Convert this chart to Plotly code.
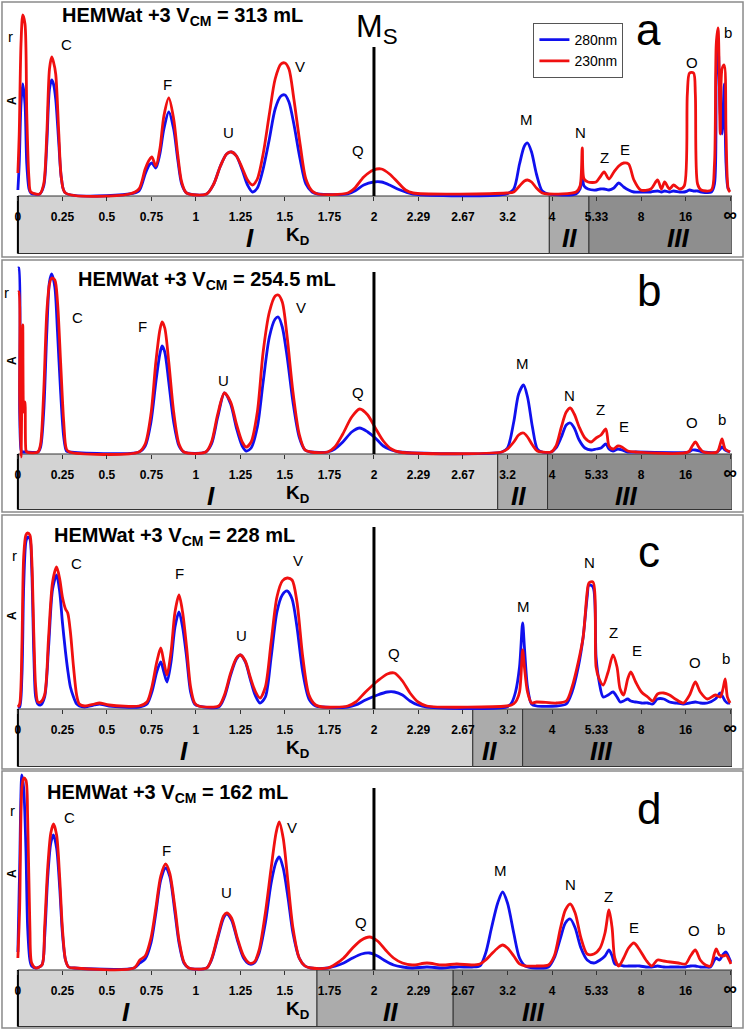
import plotly.graph_objects as go

W, H = 750, 1030
FONT = "Liberation Sans, Arial, sans-serif"
BLUE = "#1010ee"
RED = "#f01010"

# ---------------- data ----------------
tick_pos = list(range(17))
tick_labels = ["0", "0.25", "0.5", "0.75", "1", "1.25", "1.5", "1.75", "2",
               "2.29", "2.67", "3.2", "4", "5.33", "8", "16", "∞"]

titles = ["313", "254.5", "228", "162"]
panel_letters = ["a", "b", "c", "d"]
peak_names = ["r", "C", "F", "U", "V", "Q", "M", "N", "Z", "E", "O", "b"]

# panel a (V_CM = 313 mL)
a_pos = [0.00, 0.03, 0.07, 0.11, 0.16, 0.20, 0.25, 0.29, 0.49, 0.58, 0.65, 0.71, 0.76, 0.80, 0.85, 0.92, 0.98, 1.07,
         2.50, 2.72, 2.86, 2.95, 3.01, 3.10, 3.19, 3.28, 3.39, 3.50, 3.59, 3.68, 3.79, 4.24, 4.40, 4.55, 4.69, 4.80,
         4.91, 5.04, 5.16, 5.27, 5.38, 5.51, 5.65, 5.78, 5.91, 6.00, 6.09, 6.20, 6.34, 6.47, 6.61, 6.74, 7.41, 7.57,
         7.77, 7.99, 8.17, 8.35, 8.53, 8.71, 8.88, 10.98, 11.14, 11.27, 11.38, 11.45, 11.54, 11.65, 11.78, 11.92,
         12.54, 12.63, 12.68, 12.72, 12.81, 12.99, 13.08, 13.17, 13.28, 13.39, 13.50, 13.61, 13.72, 13.84, 13.99,
         14.22, 14.37, 14.46, 14.53, 14.64, 14.73, 14.87, 14.97, 15.04, 15.09, 15.18, 15.22, 15.27, 15.35, 15.58,
         15.65, 15.69, 15.73, 15.78, 15.82, 15.87, 15.91, 15.96, 16.00]
a_280 = [4, 30, 90, 110, 90, 30, 5, 1, 0, 8, 50, 105, 114, 110, 95, 50, 15, 1,
         0, 3, 20, 29, 31, 26, 40, 65, 82, 65, 35, 10, 1, 0, 10, 28, 40, 42,
         38, 24, 9, 2, 6, 25, 55, 85, 98, 99, 92, 70, 35, 10, 2, 0, 0, 3,
         9, 12, 12, 9, 5, 2, 0, 0, 5, 30, 48, 51, 42, 20, 3, 0,
         0, 5, 17, 8, 5, 4, 5, 5, 4, 6, 11, 7, 4, 2, 2,
         2, 3, 2, 3, 2, 3, 2, 2, 3, 4, 3, 3, 3, 2, 2,
         10, 120, 150, 80, 60, 110, 30, 5, 5]
a_230 = [21, 60, 150, 179, 170, 80, 15, 2, 0, 10, 60, 125, 137, 132, 120, 60, 15, 1,
         0, 5, 25, 34, 37, 28, 45, 78, 96, 75, 40, 12, 1, 0, 10, 28, 40, 42,
         38, 26, 14, 9, 15, 40, 80, 115, 130, 131, 125, 95, 50, 15, 3, 0, 1, 6,
         17, 24, 25, 20, 12, 4, 1, 1, 2, 8, 13, 14, 12, 6, 1, 0,
         2, 8, 46, 15, 12, 12, 17, 22, 15, 22, 28, 31, 30, 14, 4,
         5, 14, 5, 12, 5, 9, 5, 8, 100, 121, 121, 100, 10, 4, 4,
         30, 150, 166, 60, 125, 129, 60, 5, 2]

# panel b (V_CM = 254.5 mL)
b_pos = [0.00, 0.02, 0.04, 0.07, 0.09, 0.11, 0.13, 0.16, 0.18, 0.20, 0.45, 0.51, 0.58, 0.65, 0.71, 0.76, 0.83, 0.89,
         0.96, 1.03, 1.09, 1.16, 2.72, 2.86, 2.99, 3.10, 3.19, 3.24, 3.30, 3.39, 3.50, 3.62, 3.73, 4.22, 4.35, 4.49,
         4.64, 4.78, 4.91, 5.04, 5.13, 5.24, 5.38, 5.51, 5.65, 5.78, 5.85, 5.94, 6.05, 6.18, 6.32, 6.45, 6.58, 6.96,
         7.12, 7.30, 7.50, 7.68, 7.86, 8.03, 8.21, 8.39, 8.57, 10.87, 11.00, 11.14, 11.25, 11.36, 11.45, 11.56, 11.67,
         11.78, 11.98, 12.09, 12.21, 12.32, 12.41, 12.50, 12.61, 12.74, 12.88, 12.99, 13.10, 13.21, 13.28, 13.37,
         13.48, 13.57, 13.70, 13.88, 15.06, 15.15, 15.22, 15.31, 15.40, 15.71, 15.78, 15.82, 15.89, 16.00]
b_280 = [184, 184, 40, 2, 0, 0, 0, 0, 0, 0, 0, 5, 40, 120, 170, 178, 165, 120,
         60, 15, 1, 0, 0, 6, 30, 70, 98, 106, 100, 70, 30, 6, 0, 0, 8, 35,
         59, 48, 24, 6, 1, 4, 25, 70, 115, 133, 135, 125, 95, 50, 15, 2, 0, 0,
         3, 10, 20, 24, 20, 14, 6, 2, 0, 0, 4, 30, 58, 67, 55, 25, 3,
         0, 0, 4, 15, 27, 29, 24, 12, 4, 2, 3, 4, 8, 3, 1,
         3, 2, 0, 0, 0, 2, 2, 1, 0, 0, 3, 5, 2, 0]
b_230 = [160, 160, 60, -5, 60, 127, 40, 50, 2, 0, 0, 8, 60, 140, 168, 174, 172, 150,
         90, 30, 3, 0, 0, 8, 38, 90, 122, 130, 124, 90, 40, 8, 0, 0, 10, 38,
         59, 50, 28, 10, 5, 10, 40, 100, 140, 156, 157, 150, 115, 60, 18, 2, 0, 0,
         5, 18, 35, 43, 37, 24, 11, 3, 0, 0, 3, 10, 17, 19, 15, 7, 1,
         0, 0, 6, 25, 40, 44, 38, 25, 14, 10, 14, 17, 23, 6, 3,
         6, 5, 1, 0, 0, 6, 10, 4, 0, 0, 8, 13, 3, 0]

# panel c (V_CM = 228 mL)
c_pos = [0.00, 0.04, 0.09, 0.13, 0.18, 0.22, 0.27, 0.31, 0.36, 0.40, 0.45, 0.51, 0.60, 0.69, 0.78, 0.87, 0.94, 1.00,
         1.07, 1.12, 1.18, 1.25, 1.32, 1.38, 1.50, 1.72, 1.83, 2.05, 2.72, 2.90, 3.01, 3.12, 3.21, 3.28, 3.35, 3.44,
         3.53, 3.62, 3.70, 3.79, 3.88, 3.97, 4.06, 4.51, 4.64, 4.78, 4.91, 5.00, 5.11, 5.22, 5.33, 5.44, 5.56, 5.69,
         5.82, 5.94, 6.05, 6.16, 6.27, 6.40, 6.54, 6.69, 6.85, 7.41, 7.59, 7.81, 8.08, 8.30, 8.46, 8.64, 8.81, 8.99,
         9.19, 10.98, 11.09, 11.18, 11.27, 11.34, 11.38, 11.45, 11.54, 11.65, 12.10, 12.32, 12.45, 12.59, 12.70,
         12.79, 12.83, 12.92, 12.99, 13.06, 13.15, 13.26, 13.37, 13.46, 13.53, 13.61, 13.70, 13.77, 13.88, 14.01,
         14.15, 14.26, 14.37, 14.51, 14.64, 14.77, 14.95, 15.09, 15.22, 15.33, 15.49, 15.67, 15.78, 15.84, 15.89,
         15.94, 16.00]
c_280 = [0, 0, 30, 120, 165, 170, 168, 140, 50, 10, 3, 2, 10, 60, 118, 132, 115, 85,
         55, 37, 20, 10, 3, 1, 0, 2, 3, 1, 0, 3, 15, 35, 45, 35, 25, 45,
         80, 95, 80, 50, 15, 3, 1, 0, 10, 32, 48, 52, 45, 28, 12, 4, 10, 50,
         95, 112, 116, 108, 80, 35, 8, 1, 0, 0, 2, 7, 12, 15, 15, 12, 6, 2,
         0, 0, 4, 15, 40, 84, 60, 20, 3, 1, 1, 3, 15, 40, 70,
         110, 122, 120, 50, 25, 10, 12, 15, 10, 5, 6, 8, 6, 5, 4,
         4, 3, 8, 8, 5, 4, 3, 4, 5, 4, 4, 8, 14, 10, 6,
         4, 4]
c_230 = [0, 3, 60, 150, 172, 174, 172, 150, 70, 20, 5, 5, 12, 70, 125, 140, 128, 110,
         98, 94, 75, 40, 12, 3, 1, 3, 4, 2, 1, 5, 20, 45, 59, 45, 32, 55,
         95, 112, 95, 60, 20, 4, 1, 1, 12, 34, 49, 52, 46, 30, 16, 9, 20, 65,
         110, 126, 129, 127, 105, 50, 12, 2, 0, 1, 5, 15, 26, 33, 34, 26, 14, 5,
         1, 1, 2, 5, 15, 57, 40, 15, 4, 5, 4, 6, 20, 45, 70,
         115, 124, 125, 40, 28, 22, 35, 52, 40, 18, 12, 28, 35, 25, 15,
         10, 6, 13, 14, 12, 8, 4, 12, 25, 15, 8, 12, 10, 18, 28,
         10, 4]

# panel d (V_CM = 162 mL)
d_pos = [0.00, 0.04, 0.09, 0.13, 0.18, 0.22, 0.27, 0.31, 0.40, 0.54, 0.60, 0.67, 0.74, 0.80, 0.87, 0.94, 1.00, 1.07,
         1.14, 1.27, 2.61, 2.74, 2.86, 2.99, 3.10, 3.21, 3.32, 3.41, 3.53, 3.62, 3.73, 3.84, 4.24, 4.35, 4.49, 4.62,
         4.69, 4.80, 4.93, 5.07, 5.20, 5.31, 5.42, 5.56, 5.69, 5.80, 5.87, 5.96, 6.07, 6.18, 6.32, 6.45, 6.58, 6.96,
         7.14, 7.32, 7.52, 7.72, 7.90, 8.08, 8.26, 8.44, 8.64, 8.86, 9.19, 9.53, 9.86, 10.20, 10.38, 10.51, 10.64,
         10.78, 10.89, 11.00, 11.14, 11.27, 11.40, 11.65, 11.92, 12.05, 12.19, 12.30, 12.41, 12.52, 12.65, 12.79,
         12.94, 13.08, 13.19, 13.28, 13.35, 13.41, 13.50, 13.61, 13.72, 13.84, 13.97, 14.11, 14.24, 14.37, 14.51,
         14.66, 14.84, 15.00, 15.11, 15.22, 15.33, 15.45, 15.56, 15.65, 15.69, 15.76, 15.85, 15.91, 15.98, 16.02]
d_280 = [16, 100, 193, 180, 120, 40, 8, 2, 0, 3, 30, 90, 125, 133, 120, 80, 35, 8,
         1, 0, 0, 5, 9, 25, 55, 88, 100, 92, 55, 25, 5, 0, 0, 8, 30, 50,
         54, 48, 28, 10, 4, 5, 15, 45, 85, 106, 111, 100, 70, 35, 10, 2, 0, 0,
         2, 5, 10, 14, 15, 12, 7, 3, 1, 0, 1, 0, 1, 1, 2, 15, 40,
         65, 76, 65, 35, 10, 2, 0, 1, 10, 30, 45, 49, 40, 20, 8,
         5, 8, 12, 18, 12, 4, 3, 2, 2, 2, 2, 1, 1, 2, 1,
         1, 1, 1, 2, 2, 1, 1, 1, 8, 10, 8, 14, 16, 10, 6]
d_230 = [10, 60, 180, 190, 188, 150, 40, 5, 0, 3, 40, 100, 135, 144, 133, 90, 40, 8,
         1, 0, 0, 8, 12, 30, 60, 92, 104, 95, 60, 28, 6, 0, 0, 9, 32, 52,
         55, 50, 30, 12, 5, 6, 18, 55, 100, 135, 146, 130, 85, 40, 10, 2, 0, 0,
         4, 10, 20, 28, 31, 27, 18, 10, 5, 3, 5, 3, 4, 3, 4, 8, 14,
         20, 23, 20, 12, 4, 2, 2, 3, 12, 40, 58, 64, 55, 30, 14,
         14, 20, 35, 58, 40, 10, 2, 10, 20, 25, 18, 8, 2, 8, 7,
         6, 5, 4, 12, 18, 8, 3, 2, 15, 19, 13, 12, 13, 8, 4]

# region boundaries on the K_D position scale (I ends, II ends)
region_ends = [(11.94, 12.83), (10.78, 11.90), (10.22, 11.34), (6.72, 9.78)]

# peak label positions (K_D position, height) per panel, in peak_names order
a_lab_x = [-0.16, 1.09, 3.37, 4.73, 6.34, 7.65, 11.43, 12.63, 13.19, 13.64, 15.15, 15.96]
a_lab_y = [157, 149, 109, 61, 127, 43, 74, 61, 36, 44, 131, 161]
b_lab_x = [-0.25, 1.34, 2.79, 4.62, 6.36, 7.65, 11.34, 12.39, 13.10, 13.61, 15.15, 15.82]
b_lab_y = [160, 135, 126, 72, 145, 60, 89, 57, 43, 26, 30, 33]
c_lab_x = [-0.07, 1.32, 3.64, 5.02, 6.29, 8.44, 11.36, 12.85, 13.39, 13.90, 15.22, 15.91]
c_lab_y = [152, 144, 134, 72, 147, 54, 101, 145, 75, 57, 45, 49]
d_lab_x = [-0.11, 1.16, 3.35, 4.69, 6.16, 7.70, 10.85, 12.41, 13.28, 13.84, 15.18, 15.80]
d_lab_y = [158, 151, 118, 76, 141, 46, 98, 84, 72, 41, 38, 39]

# roman numeral positions (I, II, III) per panel
roman_x = [(5.22, 12.39, 14.82), (4.33, 11.25, 13.66), (3.73, 10.60, 13.10), (2.43, 8.37, 11.58)]

panels_data = [
    (a_pos, a_280, a_230, a_lab_x, a_lab_y),
    (b_pos, b_280, b_230, b_lab_x, b_lab_y),
    (c_pos, c_280, c_230, c_lab_x, c_lab_y),
    (d_pos, d_280, d_230, d_lab_x, d_lab_y),
]

# ---------------- geometry (pixels) ----------------
geom = [
    dict(frame=(2, 257), top=4, base=194, box_bottom=254, ms_top=147, title=(184, 16), letter=(653, 30), a_y=100),
    dict(frame=(260, 512), top=262, base=452, box_bottom=510, ms_top=180, title=(208, 280), letter=(653, 290), a_y=360),
    dict(frame=(515, 769), top=517, base=707, box_bottom=767, ms_top=180, title=(176, 536), letter=(653, 551), a_y=615),
    dict(frame=(771, 1028), top=773, base=968, box_bottom=1027, ms_top=180, title=(169, 793), letter=(653, 808), a_y=873),
]


def px(x):
    return x / W


def py(y):
    return 1 - y / H


X_ZERO, X_RIGHT, PX_PER_UNIT = 18, 737, 44.81
X_LEFT = 3
XRANGE = [-(X_ZERO - X_LEFT) / PX_PER_UNIT, (X_RIGHT - X_ZERO) / PX_PER_UNIT]
GRAYS = ["#d3d3d3", "#ababab", "#8e8e8e"]

shown_ticks = tick_labels[:-1] + ["<span style='font-size:19px'>" + tick_labels[-1] + "</span>"]

fig = go.Figure()
shapes = []
annotations = []
layout_axes = {}


def ann(**kw):
    kw.setdefault("showarrow", False)
    kw.setdefault("xanchor", "center")
    kw.setdefault("yanchor", "middle")
    annotations.append(kw)


for i, (g, (pos, v280, v230, lx, ly)) in enumerate(zip(geom, panels_data)):
    n = i + 1
    xs = "x" if n == 1 else f"x{n}"
    ys = "y" if n == 1 else f"y{n}"
    xk = "xaxis" if n == 1 else f"xaxis{n}"
    yk = "yaxis" if n == 1 else f"yaxis{n}"
    base = g["base"]
    ylo = -(g["box_bottom"] - base)
    yhi = base - g["top"]
    box_top = -2

    layout_axes[xk] = dict(
        domain=[px(X_LEFT), px(X_RIGHT)], range=XRANGE, anchor="free", position=py(base + 2),
        tickvals=tick_pos, ticktext=shown_ticks, ticks="outside", ticklen=4, tickwidth=1,
        tickcolor="#333", showgrid=False, zeroline=False, showline=False,
        tickfont=dict(family=FONT, size=12, color="black", weight="bold"),
        ticklabelstandoff=6, fixedrange=True,
    )
    layout_axes[yk] = dict(
        domain=[py(g["box_bottom"]), py(g["top"])], range=[ylo, yhi], anchor=xs,
        visible=False, fixedrange=True,
    )

    # traces
    fig.add_trace(go.Scatter(x=pos, y=v280, mode="lines", name="280nm", xaxis=xs, yaxis=ys,
                             line=dict(color=BLUE, width=2.8, shape="spline", smoothing=0.8),
                             showlegend=(n == 1), legendrank=1))
    fig.add_trace(go.Scatter(x=pos, y=v230, mode="lines", name="230nm", xaxis=xs, yaxis=ys,
                             line=dict(color=RED, width=2.8, shape="spline", smoothing=0.8),
                             showlegend=(n == 1), legendrank=2))

    # gray region boxes
    e1, e2 = region_ends[i]
    for (x0, x1), col in zip([(0, e1), (e1, e2), (e2, XRANGE[1])], GRAYS):
        shapes.append(dict(type="rect", xref=xs, yref=ys, x0=x0, x1=x1, y0=ylo + 0.5, y1=box_top,
                           fillcolor=col, line=dict(color="#333", width=1), layer="below"))
    shapes.append(dict(type="line", xref=xs, yref=ys, x0=0, x1=0, y0=ylo + 0.5, y1=box_top,
                       line=dict(color="black", width=2), layer="below"))

    # M_S line
    shapes.append(dict(type="line", xref=xs, yref=ys, x0=8, x1=8, y0=box_top, y1=g["ms_top"],
                       line=dict(color="black", width=3)))

    # panel frame
    shapes.append(dict(type="rect", xref="paper", yref="paper", x0=px(2), x1=px(748),
                       y0=py(g["frame"][1]), y1=py(g["frame"][0]),
                       line=dict(color="#8a8a8a", width=1.5), fillcolor="rgba(0,0,0,0)", layer="below"))

    # peak labels
    for name, x, y in zip(peak_names, lx, ly):
        ann(x=x, y=y, xref=xs, yref=ys, text=name, font=dict(family=FONT, size=15, color="black"))

    # roman numerals
    for txt, x in zip(["I", "II", "III"], roman_x[i]):
        ann(x=x, y=-44, xref=xs, yref=ys, text=txt,
            font=dict(family=FONT, size=26, color="black", weight="bold", style="italic"))
    # K_D
    ann(x=6.29, y=-42, xref=xs, yref=ys, text="K<sub>D</sub>",
        font=dict(family=FONT, size=19, color="black", weight="bold"))

    # title
    ann(x=px(g["title"][0]), y=py(g["title"][1]), xref="paper", yref="paper",
        text=f"HEMWat +3 V<sub>CM</sub> = {titles[i]} mL",
        font=dict(family=FONT, size=20, color="black", weight="bold"))
    # panel letter
    ann(x=px(g["letter"][0]), y=py(g["letter"][1]), xref="paper", yref="paper",
        text=panel_letters[i], font=dict(family=FONT, size=44, color="black"))
    # y label "A"
    ann(x=px(12), y=py(g["a_y"]), xref="paper", yref="paper", text="A", textangle=-90,
        font=dict(family=FONT, size=12, color="black", weight="bold"))

# M_S label (panel a)
ann(x=px(380), y=py(29), xref="paper", yref="paper", text="M<sub>S</sub>",
    font=dict(family=FONT, size=32, color="black"))

fig.update_layout(
    width=W, height=H, margin=dict(l=0, r=0, t=0, b=0),
    paper_bgcolor="white", plot_bgcolor="rgba(0,0,0,0)",
    shapes=shapes, annotations=annotations,
    legend=dict(x=px(537), y=py(23), xanchor="left", yanchor="top", bgcolor="white",
                bordercolor="#555", borderwidth=1, itemwidth=30,
                font=dict(family=FONT, size=14, color="black"), tracegroupgap=0),
    **layout_axes,
)

fig.write_html("out.html", config={"displayModeBar": False},
               post_script="document.body.style.margin='0px';")
